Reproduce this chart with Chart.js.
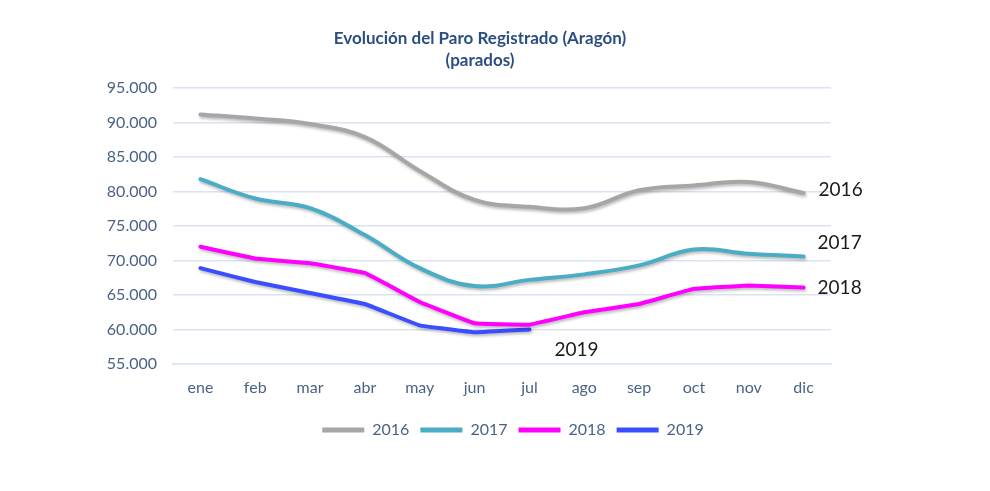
<!DOCTYPE html>
<html>
<head>
<meta charset="utf-8">
<title>Evolución del Paro Registrado (Aragón)</title>
<script src="https://cdn.jsdelivr.net/npm/chart.js@4"></script>
<style>
  html, body { margin: 0; padding: 0; background: #fff; }
</style>
</head>
<body>
<canvas id="paroChart" width="990" height="491"></canvas>
<script>
const months = ["ene", "feb", "mar", "abr", "may", "jun", "jul", "ago", "sep", "oct", "nov", "dic"];
const paro2016 = [91200, 90600, 89800, 87900, 83000, 78800, 77800, 77600, 80200, 80900, 81400, 79800];
const paro2017 = [81800, 79000, 77600, 73700, 68900, 66300, 67200, 68000, 69300, 71600, 71000, 70600];
const paro2018 = [72000, 70300, 69600, 68200, 64000, 60900, 60700, 62500, 63700, 65900, 66400, 66100];
const paro2019 = [68900, 66900, 65300, 63700, 60600, 59600, 60000];
const yTicks = { min: 55000, max: 95000, step: 5000 };

const tickColor = "#4a6385";
const gridColor = "#d9e3f1";

function fmtMiles(v) {
  return String(v).replace(/\B(?=(\d{3})+(?!\d))/g, ".");
}

// year labels next to the line ends (offsets in px from the last point)
const endLabels = [
  { dx: 15, dy: -3 },
  { dx: 14, dy: -14 },
  { dx: 14, dy: 0 },
  { dx: 25, dy: 20 },
];

const endLabelPlugin = {
  id: "endLabels",
  afterDatasetsDraw(chart) {
    const ctx = chart.ctx;
    ctx.save();
    ctx.font = "19px Lato";
    ctx.fillStyle = "#1a1a1a";
    ctx.textBaseline = "middle";
    chart.data.datasets.forEach((ds, i) => {
      const meta = chart.getDatasetMeta(i);
      const last = meta.data[meta.data.length - 1];
      const off = endLabels[i];
      ctx.fillText(ds.label, last.x + off.dx, last.y + off.dy);
    });
    ctx.restore();
  },
};

const shadowPlugin = {
  id: "lineShadow",
  beforeDatasetDraw(chart) {
    const ctx = chart.ctx;
    ctx.save();
    ctx.shadowColor = "rgba(0,0,0,0.28)";
    ctx.shadowBlur = 3;
    ctx.shadowOffsetX = 1;
    ctx.shadowOffsetY = 2;
  },
  afterDatasetDraw(chart) {
    chart.ctx.restore();
  },
};

// nudge title / legend off the page centre like the original
const nudgePlugin = {
  id: "nudge",
  afterLayout(chart) {
    chart.titleBlock.left -= 15;
    chart.titleBlock.right -= 15;
    chart.legend.left += 18;
    chart.legend.right += 18;
  },
};

function lineSet(label, data, color, tension) {
  return {
    label,
    data,
    borderColor: color,
    backgroundColor: color,
    borderWidth: 4,
    pointRadius: 0,
    tension,
    borderCapStyle: "round",
    borderJoinStyle: "round",
  };
}

new Chart(document.getElementById("paroChart"), {
  type: "line",
  data: {
    labels: months,
    datasets: [
      lineSet("2016", paro2016, "#a6a6a6", 0.4),
      lineSet("2017", paro2017, "#4bacc6", 0.4),
      lineSet("2018", paro2018, "#ff00ff", 0.05),
      lineSet("2019", paro2019, "#3a4dff", 0.05),
    ],
  },
  options: {
    responsive: false,
    animation: false,
    layout: { padding: { top: 0, right: 0, bottom: 43, left: 0 } },
    scales: {
      x: {
        offset: true,
        grid: { display: false },
        border: { display: true, color: gridColor, width: 1.5 },
        ticks: { color: tickColor, font: { family: "Lato", size: 16 }, padding: 6 },
        afterFit: (s) => { s.height = 47; },
      },
      y: {
        min: yTicks.min,
        max: yTicks.max,
        grid: { color: gridColor, lineWidth: 1.5, drawTicks: false },
        border: { display: false },
        ticks: {
          stepSize: yTicks.step,
          color: tickColor,
          font: { family: "Lato", size: 16 },
          padding: 16,
          callback: (v) => fmtMiles(v),
        },
        afterFit: (s) => { s.width = 173; },
      },
      yRight: {
        position: "right",
        display: true,
        grid: { display: false },
        border: { display: false },
        ticks: { display: false },
        afterFit: (s) => { s.width = 159; },
      },
    },
    plugins: {
      title: {
        display: true,
        text: ["Evolución del Paro Registrado (Aragón)", "(parados)"],
        color: "#2b4f81",
        font: { family: "Lato", size: 17, weight: "bold", lineHeight: 1.3 },
        padding: { top: 27, bottom: 17 },
      },
      legend: {
        position: "bottom",
        labels: {
          color: tickColor,
          font: { family: "Lato", size: 16 },
          boxWidth: 42,
          boxHeight: 5,
          padding: 11,
          generateLabels(chart) {
            const items = Chart.defaults.plugins.legend.labels.generateLabels(chart);
            items.forEach((it) => { it.lineWidth = 0; });
            return items;
          },
        },
      },
      tooltip: { enabled: false },
    },
  },
  plugins: [shadowPlugin, endLabelPlugin, nudgePlugin],
});
</script>
</body>
</html>
